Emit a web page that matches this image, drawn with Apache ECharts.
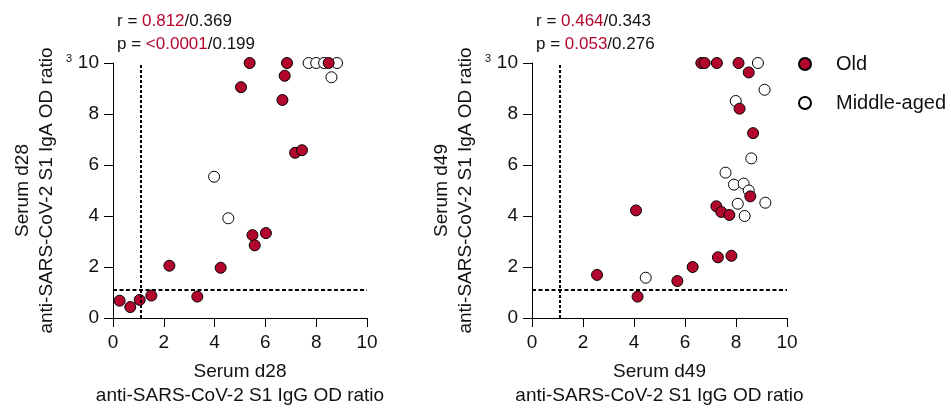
<!DOCTYPE html>
<html>
<head>
<meta charset="utf-8">
<script src="https://cdn.jsdelivr.net/npm/echarts@6/dist/echarts.min.js"></script>
<style>
  html, body { margin: 0; padding: 0; background: #fff; }
  #chart { width: 951px; height: 408px; }
</style>
</head>
<body>
<div id="chart"></div>
<script>
// [IgG, IgA] OD ratios per donor
const oldD28 = [[0.26, 0.68], [0.68, 0.43], [1.05, 0.71], [1.51, 0.88], [2.22, 2.05], [3.32, 0.84],
    [4.24, 1.97], [5.04, 9.05], [5.38, 10], [5.49, 3.25], [5.58, 2.85], [6.02, 3.33], [6.67, 8.55],
    [6.76, 9.5], [6.85, 10], [7.17, 6.48], [7.44, 6.58], [8.49, 10]];
const midD28 = [[3.98, 5.54], [4.54, 3.91], [7.70, 10], [8.0, 10], [8.31, 10], [8.82, 10], [8.6, 9.44]];

const oldD49 = [[2.55, 1.69], [4.08, 4.22], [4.14, 0.84], [5.70, 1.45], [6.30, 2.0], [6.64, 10], [6.77, 10],
    [7.25, 10], [7.23, 4.38], [7.42, 4.16], [7.74, 4.04], [7.29, 2.38], [7.82, 2.44], [8.10, 10],
    [8.50, 9.63], [8.14, 8.21], [8.67, 7.25], [8.56, 4.77]];
const midD49 = [[4.46, 1.58], [8.86, 10], [9.12, 8.95], [7.99, 8.51], [8.60, 6.26], [7.59, 5.70],
    [7.92, 5.23], [8.30, 5.27], [8.50, 5.0], [8.07, 4.48], [9.15, 4.52], [8.34, 4.0]];

const days = ["d28", "d49"];
const rOld = ["0.812", "0.464"];
const rMid = ["0.369", "0.343"];
const pOld = ["<0.0001", "0.053"];
const pMid = ["0.199", "0.276"];
const cutoff = 1.1;

const RED = "#b3062d";
const FONT = "Liberation Sans, Arial, sans-serif";

const chart = echarts.init(document.getElementById("chart"));

const grids = [
    { left: 113, top: 63, width: 254, height: 255, outerBoundsMode: "none" },
    { left: 532, top: 63, width: 255, height: 255, outerBoundsMode: "none" }
];

const axisCommon = {
    min: 0,
    max: 10,
    interval: 2,
    splitLine: { show: false },
    axisLine: { show: true, onZero: false, lineStyle: { color: "#000", width: 1 } },
    axisTick: { show: true, length: 9, lineStyle: { color: "#000", width: 1 } },
    nameLocation: "middle",
    nameTextStyle: { fontFamily: FONT, fontSize: 19, color: "#111", lineHeight: 24 }
};

const xAxes = days.map((d, i) => ({
    ...axisCommon,
    type: "value",
    gridIndex: i,
    name: "Serum " + d + "\nanti-SARS-CoV-2 S1 IgG OD ratio",
    nameGap: 42,
    axisLabel: { fontFamily: FONT, fontSize: 19, color: "#111", margin: 15 }
}));

const yAxes = days.map((d, i) => ({
    ...axisCommon,
    type: "value",
    gridIndex: i,
    name: "Serum " + d + "\nanti-SARS-CoV-2 S1 IgA OD ratio",
    nameGap: 54,
    axisLabel: { fontFamily: FONT, fontSize: 19, color: "#111", margin: 14 }
}));

const cutLines = {
    silent: true,
    symbol: ["none", "none"],
    label: { show: false },
    animation: false,
    data: [
        { xAxis: cutoff, lineStyle: { color: "#000", width: 2, type: [3, 2] } },
        { yAxis: cutoff, lineStyle: { color: "#000", width: 2, type: [4, 2.5] } }
    ]
};

function midSeries(data, i) {
    return {
        name: "Middle-aged",
        type: "scatter",
        xAxisIndex: i,
        yAxisIndex: i,
        data: data,
        symbolSize: 11,
        itemStyle: { color: "#fff", borderColor: "#000", borderWidth: 1, opacity: 1 },
        markLine: cutLines,
        z: 2
    };
}

function oldSeries(data, i) {
    return {
        name: "Old",
        type: "scatter",
        xAxisIndex: i,
        yAxisIndex: i,
        data: data,
        symbolSize: 11,
        itemStyle: { color: RED, borderColor: "#000", borderWidth: 1, opacity: 1 },
        z: 3
    };
}

const statText = (i) => [
    {
        type: "text",
        left: grids[i].left + 4,
        top: 13,
        style: {
            text: "{b|r = }{r|" + rOld[i] + "}{b|/" + rMid[i] + "}",
            rich: {
                b: { fontFamily: FONT, fontSize: 17, fill: "#111" },
                r: { fontFamily: FONT, fontSize: 17, fill: RED }
            }
        }
    },
    {
        type: "text",
        left: grids[i].left + 4,
        top: 36,
        style: {
            text: "{b|p = }{r|" + pOld[i] + "}{b|/" + pMid[i] + "}",
            rich: {
                b: { fontFamily: FONT, fontSize: 17, fill: "#111" },
                r: { fontFamily: FONT, fontSize: 17, fill: RED }
            }
        }
    },
    {
        type: "text",
        left: grids[i].left - 47,
        top: 53,
        style: { text: "3", fontFamily: FONT, fontSize: 11, fill: "#111" }
    }
];

const option = {
    animation: false,
    backgroundColor: "#fff",
    grid: grids,
    xAxis: xAxes,
    yAxis: yAxes,
    legend: {
        data: ["Old", "Middle-aged"],
        orient: "vertical",
        left: 793,
        top: 49,
        itemWidth: 12,
        itemHeight: 12,
        itemGap: 19,
        textStyle: { fontFamily: FONT, fontSize: 20, color: "#111", padding: [0, 0, 0, 20] }
    },
    graphic: [...statText(0), ...statText(1)],
    series: [
        midSeries(midD28, 0),
        oldSeries(oldD28, 0),
        midSeries(midD49, 1),
        oldSeries(oldD49, 1)
    ]
};

chart.setOption(option);
</script>
</body>
</html>
